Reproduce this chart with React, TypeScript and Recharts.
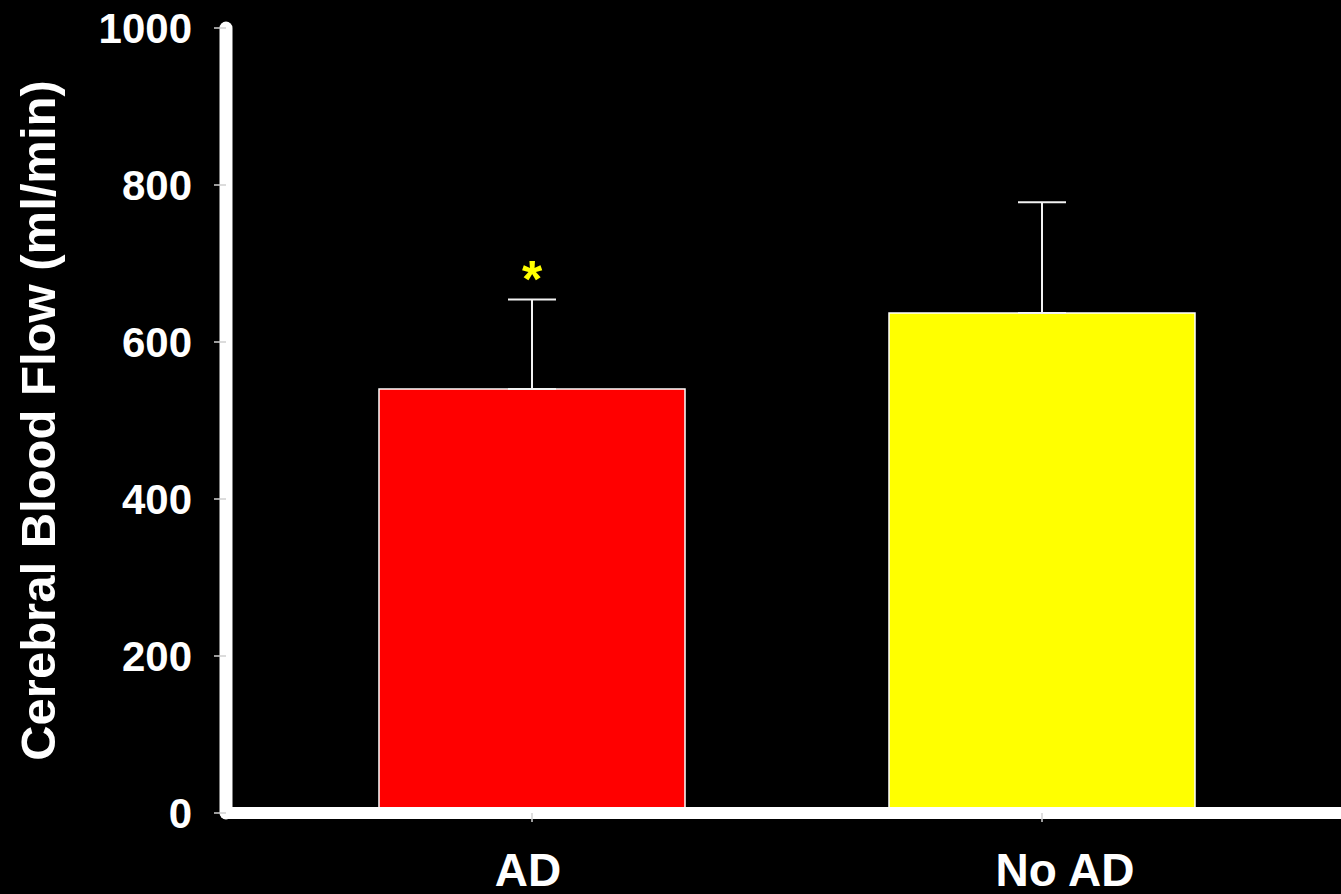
import React from 'react';
import { BarChart, Bar, XAxis, YAxis, ErrorBar, Cell, ReferenceDot } from 'recharts';

const GROUPS = ['AD', 'No AD'];
const MEAN_FLOW = [540, 637];
const SD_FLOW = [114, 141];
const Y_TICKS = [0, 200, 400, 600, 800, 1000];
const BAR_COLORS = ['#ff0000', '#ffff00'];
const Y_TITLE = 'Cerebral Blood Flow (ml/min)';

const FONT = '"Liberation Sans", Arial, Helvetica, sans-serif';

const data = GROUPS.map((name, i) => ({
  name,
  flow: MEAN_FLOW[i],
  err: [0, SD_FLOW[i]],
}));

// the "No AD" label sits a bit right of its bar in the original slide
const labelShift: Record<string, number> = { AD: -4, 'No AD': 23 };

function GroupTick(props: any) {
  const { x, y, payload } = props;
  return (
    <text
      x={x + (labelShift[payload.value] || 0)}
      y={y}
      dy="0.71em"
      textAnchor="middle"
      fill="#fff"
      fontSize={46}
      fontWeight="bold"
      fontFamily={FONT}
    >
      {payload.value}
    </text>
  );
}

function YTitle(props: any) {
  const vb = props.viewBox || { x: 0, y: 0, height: 0 };
  const cx = vb.x + 55;
  const cy = vb.y + vb.height / 2;
  return (
    <text
      x={0}
      y={0}
      transform={`translate(${cx},${cy}) rotate(-90)`}
      textAnchor="middle"
      fill="#fff"
      fontSize={49}
      fontWeight="bold"
      fontFamily={FONT}
    >
      {Y_TITLE}
    </text>
  );
}

export default function App() {
  return (
    <div style={{ position: 'absolute', left: 0, top: 0, width: 1341, height: 894, background: '#000' }}>
      <BarChart
        width={1341}
        height={894}
        data={data}
        margin={{ top: 28, right: 0, bottom: 0, left: 0 }}
        barSize={306}
      >
        <Bar dataKey="flow" stroke="#fff" strokeWidth={1.5} isAnimationActive={false}>
          {data.map((d, i) => (
            <Cell key={d.name} fill={BAR_COLORS[i % BAR_COLORS.length]} />
          ))}
          <ErrorBar dataKey="err" direction="y" width={24} stroke="#f2f2f2" strokeWidth={2} />
        </Bar>
        <ReferenceDot
          x={GROUPS[0]}
          y={MEAN_FLOW[0] + SD_FLOW[0]}
          r={0}
          fill="none"
          stroke="none"
          label={{ value: '*', position: 'top', offset: 3, fill: '#ffff00', fontSize: 52, fontWeight: 'bold', fontFamily: FONT }}
        />
        <XAxis
          dataKey="name"
          height={81}
          padding={{ left: 51, right: 44 }}
          axisLine={{ stroke: '#fff', strokeWidth: 12, strokeLinecap: 'round' }}
          tickLine={{ stroke: '#d0d0d0', strokeWidth: 1.5 }}
          tickSize={9}
          tickMargin={31}
          tick={<GroupTick />}
        />
        <YAxis
          width={226}
          domain={[0, 1000]}
          ticks={Y_TICKS}
          interval={0}
          axisLine={{ stroke: '#fff', strokeWidth: 13, strokeLinecap: 'round' }}
          tickLine={{ stroke: '#d0d0d0', strokeWidth: 1.5 }}
          tickSize={12}
          tickMargin={22}
          tick={{ fill: '#fff', fontSize: 42, fontWeight: 'bold', fontFamily: FONT }}
          label={<YTitle />}
        />
      </BarChart>
    </div>
  );
}
